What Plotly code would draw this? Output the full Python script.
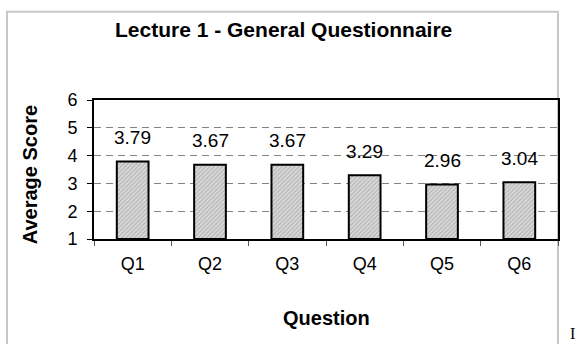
import plotly.graph_objects as go

# Average score per question
questions = ["Q1", "Q2", "Q3", "Q4", "Q5", "Q6"]
scores = [3.79, 3.67, 3.67, 3.29, 2.96, 3.04]
y_ticks = [1, 2, 3, 4, 5, 6]
BASE = 1  # the value axis starts at 1

W, H = 579, 344
L, R, T, B = 94, 558, 99.5, 239  # plot-area pixel edges
pw, ph = R - L, B - T


def px_x(x):
    return (x - L) / pw


def px_y(y):
    return (B - y) / ph


FONT = "Liberation Sans, Arial, sans-serif"

fig = go.Figure()
fig.add_trace(go.Bar(
    x=questions,
    y=[s - BASE for s in scores],
    base=BASE,
    width=0.41,
    marker=dict(
        color="#c4c4c4",
        line=dict(color="black", width=2),
        pattern=dict(shape="/", size=3, solidity=0.45,
                     fgcolor="#909090", bgcolor="#dcdcdc"),
    ),
    hoverinfo="skip",
))

annotations = []
for q, s in zip(questions, scores):
    annotations.append(dict(
        x=q, y=s, xref="x", yref="y", text=f"{s:.2f}",
        showarrow=False, yshift=24, yanchor="middle",
        font=dict(family=FONT, size=19, color="black"),
    ))

annotations += [
    dict(text="<b>Lecture 1 - General Questionnaire</b>", xref="paper", yref="paper",
         x=px_x(283), y=px_y(29), xanchor="center", yanchor="middle",
         showarrow=False, font=dict(family=FONT, size=21, color="black")),
    dict(text="<b>Average Score</b>", xref="paper", yref="paper",
         x=px_x(30), y=px_y(175), xanchor="center", yanchor="middle", textangle=-90,
         showarrow=False, font=dict(family=FONT, size=20, color="black")),
    dict(text="<b>Question</b>", xref="paper", yref="paper",
         x=px_x(326), y=px_y(318), xanchor="center", yanchor="middle",
         showarrow=False, font=dict(family=FONT, size=20, color="black")),
    dict(text="I", xref="paper", yref="paper",
         x=px_x(572), y=px_y(344), xanchor="center", yanchor="bottom",
         showarrow=False, font=dict(family="Liberation Serif, Times New Roman, serif",
                                    size=16, color="black")),
]

shapes = [
    # outer chart frame (open at the bottom edge of the page)
    dict(type="rect", xref="paper", yref="paper",
         x0=px_x(7), x1=px_x(558), y0=px_y(360), y1=px_y(11),
         line=dict(color="#c8c8c8", width=2), layer="below"),
]

fig.update_layout(
    width=W, height=H,
    margin=dict(l=L, r=W - R, t=T, b=H - B, pad=0),
    paper_bgcolor="white", plot_bgcolor="white",
    showlegend=False,
    annotations=annotations,
    shapes=shapes,
)

fig.update_xaxes(
    type="category",
    range=[-0.5, 5.5],
    showline=True, linecolor="black", linewidth=2, mirror=True,
    ticks="outside", ticklen=5, tickcolor="#555555", tickwidth=1,
    tickson="boundaries",
    showgrid=False,
    ticklabelstandoff=7,
    tickfont=dict(family=FONT, size=18, color="black"),
)
fig.update_yaxes(
    range=[1, 6],
    tickvals=y_ticks,
    showline=True, linecolor="black", linewidth=2, mirror=True,
    ticks="outside", ticklen=5, tickcolor="black", tickwidth=1,
    showgrid=True, gridcolor="#808080", gridwidth=1, griddash="7px,5px",
    zeroline=False,
    ticklabelstandoff=6,
    tickfont=dict(family=FONT, size=18, color="black"),
)

fig.write_html("out.html")
